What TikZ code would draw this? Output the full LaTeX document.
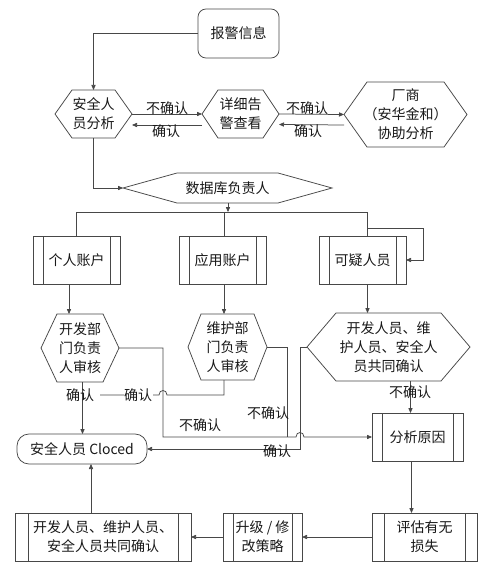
\documentclass[tikz,border=0pt]{standalone}
\usepackage{fontspec}
\newfontfamily\cjk{Noto Sans CJK SC}
\usetikzlibrary{arrows.meta,calc}
\newcommand\hexoutline[2]{\draw[ln] (#1.west) -- ([xshift=#2]#1.north west) -- ([xshift=-#2]#1.north east) -- (#1.east) -- ([xshift=-#2]#1.south east) -- ([xshift=#2]#1.south west) -- cycle;}
\begin{document}
\begin{tikzpicture}[x=1pt,y=-1pt,
  ln/.style={draw=black!72, line width=0.75pt},
  arr/.style={ln, -{Triangle[length=5pt,width=4.2pt]}},
  base/.style={font=\cjk\fontsize{14}{19}\selectfont, align=center, text=black!90, inner sep=0pt, outer sep=0pt, shape=rectangle},
  lbl/.style={font=\cjk\fontsize{14}{19}\selectfont, text=black!90, inner sep=0.5pt},
  roundbox/.style={base, draw=black!72, line width=0.75pt},
  procbox/.style={base, draw=black!72, line width=0.75pt,
    path picture={\draw[black!72,line width=0.75pt]
      ([xshift=#1]path picture bounding box.north west) -- ([xshift=#1]path picture bounding box.south west)
      ([xshift=-#1]path picture bounding box.north east) -- ([xshift=-#1]path picture bounding box.south east);}},
  procbox/.default=10pt
]
\useasboundingbox (0,0) rectangle (493,580);
\fill[white] (0,0) rectangle (493,580);

% ---- nodes ----
\node[roundbox, rounded corners=8pt, minimum width=81pt, minimum height=49pt] (alarm) at (238.5,33.5) {报警信息};
\node[base, minimum width=77pt, minimum height=48pt] (sa) at (93.5,114) {安全人\\员分析};
\node[base, minimum width=77pt, minimum height=48pt] (detail) at (240.5,114) {详细告\\警查看};
\node[base, minimum width=123pt, minimum height=65pt] (vendor) at (405.5,114.5) {厂商\\（安华金和）\\协助分析};
\node[base, minimum width=209pt, minimum height=30pt] (db) at (227.5,188) {数据库负责人};
\node[procbox, minimum width=87pt, minimum height=48pt] (personal) at (76.5,260) {个人账户};
\node[procbox, minimum width=87pt, minimum height=48pt] (app) at (222.5,260) {应用账户};
\node[procbox, minimum width=87pt, minimum height=48pt] (susp) at (362.5,260) {可疑人员};
\node[base, minimum width=78pt, minimum height=68pt] (devrev) at (80,348) {开发部\\门负责\\人审核};
\node[base, minimum width=79pt, minimum height=66pt] (mntrev) at (227.5,347) {维护部\\门负责\\人审核};
\node[base, minimum width=163pt, minimum height=68pt] (jointhex) at (388.5,347) {开发人员、维\\护人员、安全人\\员共同确认};
\node[roundbox, rounded corners=12pt, minimum width=130pt, minimum height=30pt] (cloced) at (82,449) {安全人员 Cloced};
\node[procbox, minimum width=91pt, minimum height=48pt] (cause) at (417.5,437) {分析原因};
\node[procbox=12pt, minimum width=105pt, minimum height=48pt] (assess) at (424.5,537) {评估有无\\损失};
\node[procbox=10pt, minimum width=79pt, minimum height=48pt] (upgrade) at (262.5,537) {升级 / 修\\改策略};
\node[procbox=13pt, minimum width=176pt, minimum height=48pt] (jointbox) at (103,537) {开发人员、维护人员、\\安全人员共同确认};

\hexoutline{sa}{17pt}
\hexoutline{detail}{16pt}
\hexoutline{vendor}{23pt}
\hexoutline{db}{54pt}
\hexoutline{devrev}{16pt}
\hexoutline{mntrev}{13pt}
\hexoutline{jointhex}{29pt}

% ---- connectors ----
\draw[arr] (alarm.west) -| (sa.north);
\draw[arr] (sa.east) -- (detail.west);
\draw[arr] ([yshift=-11pt]detail.west) -- ([yshift=-11pt]sa.east);
\draw[arr] (detail.east) -- (vendor.west);
\draw[arr] ([yshift=-10.5pt]vendor.west) -- ([yshift=-10.5pt]detail.east);
\draw[arr] (sa.south) |- (db.west);

\coordinate (busR) at (367,212);
\coordinate (loopA) at (367,228);
\draw[arr] ([xshift=0.5pt]db.south) -- ([xshift=0.5pt]db.south |- busR);
\draw[ln] (personal.north) |- (busR) -- (busR |- susp.north);
\draw[ln] ([xshift=1.5pt]app.north) -- ([xshift=1.5pt]app.north |- busR);
\draw[arr] (loopA) -| ([xshift=17pt]susp.east) -- (susp.east);

\draw[arr] ([xshift=-7.5pt]personal.south) -- ([xshift=-7.5pt]personal.south |- devrev.north);
\draw[arr] ([xshift=1.5pt]app.south) -- ([xshift=1.5pt]app.south |- mntrev.north);
\draw[arr] ([xshift=5pt]susp.south) -- ([xshift=5pt]susp.south |- jointhex.north);

\coordinate (kA) at (163,437);
\coordinate (hA) at (224,395);
\coordinate (hEnd) at (100,395);
\draw[arr] (devrev.east) -| (kA) -- (296,437) .. controls (296,431) and (304,431) .. (304,437) -- (cause.west);
\draw[arr] ([xshift=2.5pt]devrev.south) -- ([xshift=2.5pt]devrev.south |- cloced.north);
\draw[ln] ([xshift=-3.5pt]mntrev.south) -- (hA) -- (167,395) .. controls (167,389) and (159,389) .. (159,395) -- (hEnd);
\draw[ln] (mntrev.east) -| (287,437);
\draw[arr] (jointhex.west) -- ++(-7,0) |- (cloced.east);
\draw[arr] ([xshift=22pt]jointhex.south) -- ([xshift=22pt]jointhex.south |- cause.north);
\draw[arr] ([xshift=-6pt]cause.south) -- ([xshift=-6pt]cause.south |- assess.north);
\draw[arr] (assess.west) -- (upgrade.east);
\draw[arr] (upgrade.west) -- (jointbox.east);
\draw[arr] ([xshift=-12pt]jointbox.north) -- ([xshift=-12pt]jointbox.north |- cloced.south);

% ---- labels ----
\node[lbl] (lA) at (167,108) {不确认};
\node[lbl] (lB) at (166,131) {确认};
\node[lbl] (lC) at (307,108) {不确认};
\node[lbl] (lD) at (308,131) {确认};
\node[lbl] (lE) at (80,395) {确认};
\node[lbl, fill=white] (lF) at (138,395) {确认};
\node[lbl] (lG) at (200,425) {不确认};
\node[lbl] (lH) at (268,413) {不确认};
\node[lbl] (lI) at (277,451) {确认};
\node[lbl] (lJ) at (410,392) {不确认};
\end{tikzpicture}
\end{document}
